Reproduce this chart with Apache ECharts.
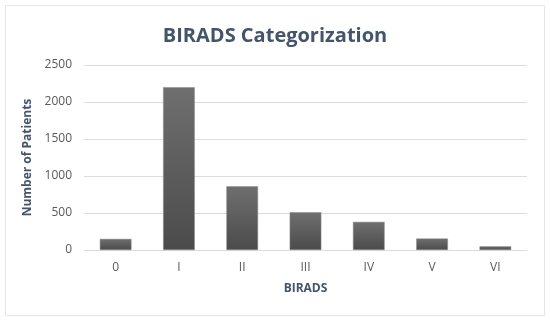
<!DOCTYPE html>
<html><head><meta charset="utf-8">
<script src="https://cdn.jsdelivr.net/npm/echarts@6/dist/echarts.min.js"></script>
<style>html,body{margin:0;padding:0;background:#fff}#c{width:550px;height:321px}</style>
</head><body><div id="c"></div>
<script>
var categories = ['0', 'I', 'II', 'III', 'IV', 'V', 'VI'];
var patients = [150, 2200, 860, 510, 380, 155, 50];
var yTicks = [0, 500, 1000, 1500, 2000, 2500];

var chart = echarts.init(document.getElementById('c'), null, {renderer: 'canvas'});
chart.setOption({
  backgroundColor: '#ffffff',
  animation: false,
  graphic: [{type: 'rect', shape: {x: 5.5, y: 5.5, width: 539, height: 310}, style: {fill: 'none', stroke: '#e3e6ea', lineWidth: 1}, silent: true}],
  title: {text: 'BIRADS Categorization', left: 'center', top: 21,
    textStyle: {fontFamily: 'Open Sans', fontSize: 20, fontWeight: 'bold', color: '#44546a'}},
  grid: {left: 84, right: 23, top: 65, bottom: 71, containLabel: false},
  xAxis: {type: 'category', data: categories, name: 'BIRADS', nameLocation: 'middle', nameGap: 33,
    nameTextStyle: {fontFamily: 'Open Sans', fontSize: 12, fontWeight: 'bold', color: '#44546a'},
    axisLine: {lineStyle: {color: '#d9dde3'}}, axisTick: {show: false},
    axisLabel: {fontFamily: 'Open Sans', fontSize: 12, color: '#595959', margin: 12}},
  yAxis: {type: 'value', min: yTicks[0], max: yTicks[yTicks.length - 1], interval: 500,
    name: 'Number of Patients', nameLocation: 'middle', nameGap: 40, nameRotate: 90,
    nameTextStyle: {fontFamily: 'Open Sans', fontSize: 12, fontWeight: 'bold', color: '#44546a'},
    axisLine: {show: false}, axisTick: {show: false},
    axisLabel: {fontFamily: 'Open Sans', fontSize: 12, color: '#595959', margin: 12,
      formatter: function (v) { return String(v); }},
    splitLine: {lineStyle: {color: '#d9dde3'}}},
  series: [{type: 'bar', data: patients, barWidth: '50%',
    itemStyle: {color: new echarts.graphic.LinearGradient(0, 0, 0, 1, [{offset: 0, color: '#6f6f6f'}, {offset: 1, color: '#4b4b4b'}]),
      borderColor: '#8a8a8a', borderWidth: 0.5}}]
});
</script></body></html>
